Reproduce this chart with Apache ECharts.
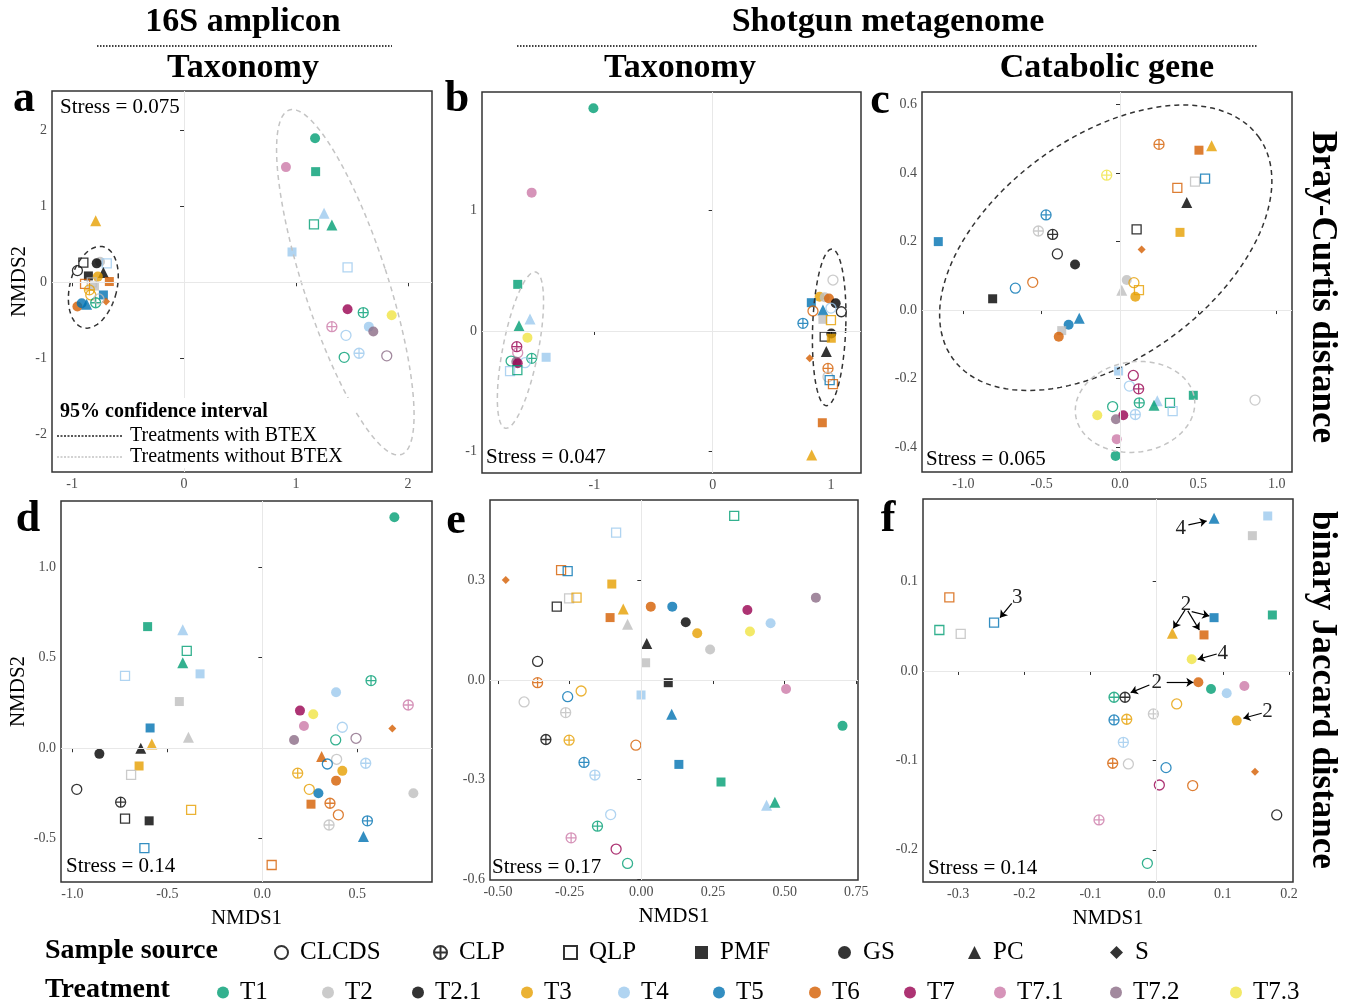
<!DOCTYPE html>
<html><head><meta charset="utf-8">
<script src="https://cdn.jsdelivr.net/npm/echarts@6/dist/echarts.min.js"></script>
<style>html,body{margin:0;padding:0;background:#fff}#c{width:1347px;height:1006px}</style>
</head><body><div id="c"></div>
<script>
// ---------- categories ----------
const SOURCES = ['CLCDS','CLP','QLP','PMF','GS','PC','S'];
const TREATMENTS = ['T1','T2','T2.1','T3','T4','T5','T6','T7','T7.1','T7.2','T7.3'];
const STRESS = ['Stress = 0.075','Stress = 0.047','Stress = 0.065','Stress = 0.14','Stress = 0.17','Stress = 0.14'];

// ---------- tick labels ----------
const ticksAx = [-1,0,1,2],            ticksAy = [-2,-1,0,1,2];
const ticksBx = [-1,0,1],              ticksBy = [-1,0,1];
const ticksCx = [-1,-0.5,0,0.5,1],     ticksCy = [-0.4,-0.2,0,0.2,0.4,0.6];
const ticksDx = [-1,-0.5,0,0.5],       ticksDy = [-0.5,0,0.5,1];
const ticksEx = [-0.5,-0.25,0,0.25,0.5,0.75], ticksEy = [-0.6,-0.3,0,0.3];
const ticksFx = [-0.3,-0.2,-0.1,0,0.1,0.2],   ticksFy = [-0.2,-0.1,0,0.1];

// ---------- points: [NMDS1, NMDS2, source, treatment] ----------
const panelA = [
 [1.17,1.90,'GS','T1'],[0.91,1.52,'GS','T7.1'],[1.175,1.46,'PMF','T1'],[1.25,0.91,'PC','T4'],
 [1.16,0.765,'QLP','T1'],[1.32,0.756,'PC','T1'],[0.964,0.40,'PMF','T4'],[1.46,0.198,'QLP','T4'],
 [1.46,-0.356,'GS','T7'],[1.60,-0.40,'CLP','T1'],[1.854,-0.435,'GS','T7.3'],[1.32,-0.585,'CLP','T7.1'],
 [1.65,-0.585,'GS','T4'],[1.69,-0.65,'GS','T7.2'],[1.446,-0.70,'CLCDS','T4'],[1.43,-0.99,'CLCDS','T1'],
 [1.5625,-0.936,'CLP','T4'],[1.81,-0.97,'CLCDS','T7.2'],
 [-0.789,0.813,'PC','T3'],[-0.952,0.154,'CLCDS','T2.1'],[-0.899,0.26,'QLP','T2.1'],[-0.75,0.27,'GS','T2'],
 [-0.78,0.25,'GS','T2.1'],[-0.69,0.25,'QLP','T4'],[-0.854,0.084,'PMF','T2.1'],[-0.72,0.13,'PC','T2.1'],
 [-0.77,0.075,'GS','T3'],[-0.667,0.01,'PMF','T6'],[-0.884,-0.02,'QLP','T6'],[-0.824,0.0,'QLP','T2'],
 [-0.80,-0.05,'PMF','T2'],[-0.845,-0.10,'CLP','T3'],[-0.833,-0.167,'CLCDS','T3'],[-0.72,-0.167,'PMF','T5'],
 [-0.952,-0.32,'GS','T6'],[-0.914,-0.277,'GS','T5'],[-0.87,-0.29,'PC','T5'],[-0.789,-0.27,'CLP','T1'],
 [-0.696,-0.255,'S','T6'],[-0.76,-0.22,'CLCDS','T2']
];
const panelB = [
 [-1.008,1.848,'GS','T1'],[-1.53,1.148,'GS','T7.1'],[-1.648,0.387,'PMF','T1'],[-1.544,0.10,'PC','T4'],
 [-1.637,0.044,'PC','T1'],[-1.566,-0.055,'GS','T7.3'],[-1.656,-0.13,'CLP','T7'],[-1.648,-0.18,'CLCDS','T7.1'],
 [-1.408,-0.218,'PMF','T4'],[-1.53,-0.227,'CLP','T1'],[-1.704,-0.249,'CLCDS','T1'],[-1.586,-0.263,'CLCDS','T4'],
 [-1.66,-0.255,'GS','T7.2'],[-1.648,-0.268,'GS','T7'],[-1.713,-0.332,'QLP','T4'],[-1.651,-0.324,'QLP','T1'],
 [1.017,0.423,'CLCDS','T2'],[0.904,0.285,'GS','T3'],[0.947,0.28,'GS','T2'],[0.983,0.27,'GS','T6'],
 [0.834,0.235,'PMF','T5'],[1.04,0.23,'GS','T2.1'],[0.848,0.166,'CLCDS','T6'],[0.932,0.174,'PC','T5'],
 [1.0,0.19,'CLCDS','T4'],[1.088,0.16,'CLCDS','T2.1'],[0.932,0.097,'PMF','T2'],[1.0,0.09,'QLP','T3'],
 [0.763,0.064,'CLP','T5'],[1.003,-0.02,'GS','T2.1'],[0.947,-0.047,'QLP','T2.1'],[1.003,-0.06,'PMF','T3'],
 [0.961,-0.17,'PC','T2.1'],[0.82,-0.227,'S','T6'],[0.975,-0.31,'CLP','T6'],[0.975,-0.38,'CLCDS','T2'],
 [0.989,-0.407,'QLP','T5'],[1.017,-0.44,'QLP','T6'],[0.927,-0.761,'PMF','T6'],[0.837,-1.029,'PC','T3']
];
const panelC = [
 [-1.16,0.20,'PMF','T5'],[0.249,0.484,'CLP','T6'],[0.504,0.467,'PMF','T6'],[0.585,0.48,'PC','T3'],
 [-0.085,0.394,'CLP','T7.3'],[0.366,0.357,'QLP','T6'],[0.479,0.375,'QLP','T2'],[0.543,0.384,'QLP','T5'],
 [0.426,0.314,'PC','T2.1'],[-0.472,0.278,'CLP','T5'],[-0.521,0.231,'CLP','T2'],[-0.43,0.221,'CLP','T2.1'],
 [0.106,0.236,'QLP','T2.1'],[0.383,0.227,'PMF','T3'],[0.138,0.177,'S','T6'],[-0.40,0.164,'CLCDS','T2.1'],
 [-0.287,0.133,'GS','T2.1'],[-0.557,0.081,'CLCDS','T6'],[-0.668,0.064,'CLCDS','T5'],[-0.813,0.033,'PMF','T2.1'],
 [0.043,0.088,'GS','T2'],[0.089,0.080,'CLCDS','T3'],[0.121,0.058,'QLP','T3'],[0.011,0.058,'PC','T2'],
 [0.098,0.039,'GS','T3'],[-0.26,-0.024,'PC','T5'],[-0.328,-0.043,'GS','T5'],[-0.372,-0.06,'PMF','T2'],
 [-0.391,-0.078,'GS','T6'],[-0.009,-0.178,'PMF','T4'],[0.085,-0.191,'CLCDS','T7'],[0.06,-0.222,'CLCDS','T4'],
 [0.119,-0.23,'CLP','T7'],[0.468,-0.249,'PMF','T1'],[0.862,-0.263,'CLCDS','T2'],[0.123,-0.271,'CLP','T1'],
 [0.238,-0.265,'PC','T4'],[0.217,-0.278,'PC','T1'],[0.319,-0.271,'QLP','T1'],[0.336,-0.295,'QLP','T4'],
 [-0.047,-0.282,'CLCDS','T1'],[0.098,-0.305,'CLP','T4'],[-0.145,-0.307,'GS','T7.3'],[0.021,-0.307,'GS','T7'],
 [-0.026,-0.319,'GS','T7.2'],[-0.021,-0.377,'GS','T7.1'],[-0.028,-0.426,'GS','T1']
];
const panelD = [
 [0.695,1.276,'GS','T1'],[-0.604,0.672,'PMF','T1'],[-0.419,0.654,'PC','T4'],[-0.398,0.538,'QLP','T1'],
 [-0.419,0.473,'PC','T1'],[-0.328,0.411,'PMF','T4'],[-0.723,0.40,'QLP','T4'],[-0.437,0.258,'PMF','T2'],
 [-0.591,0.112,'PMF','T5'],[-0.389,0.061,'PC','T2'],[-0.582,0.024,'PC','T3'],[-0.64,0.0,'PC','T2.1'],
 [-0.858,-0.031,'GS','T2.1'],[-0.649,-0.098,'PMF','T3'],[-0.691,-0.147,'QLP','T2'],[-0.977,-0.227,'CLCDS','T2.1'],
 [-0.746,-0.298,'CLP','T2.1'],[-0.723,-0.389,'QLP','T2.1'],[-0.596,-0.401,'PMF','T2.1'],[-0.375,-0.341,'QLP','T3'],
 [-0.621,-0.552,'QLP','T5'],[0.049,-0.645,'QLP','T6'],
 [0.572,0.374,'CLP','T1'],[0.388,0.309,'GS','T4'],[0.768,0.239,'CLP','T7.1'],[0.198,0.208,'GS','T7'],
 [0.268,0.188,'GS','T7.3'],[0.219,0.123,'GS','T7.1'],[0.421,0.116,'CLCDS','T4'],[0.684,0.109,'S','T6'],
 [0.167,0.046,'GS','T7.2'],[0.386,0.046,'CLCDS','T1'],[0.493,0.055,'CLCDS','T7.2'],[0.312,-0.046,'PC','T6'],
 [0.391,-0.061,'CLCDS','T2'],[0.342,-0.087,'CLCDS','T5'],[0.544,-0.083,'CLP','T4'],[0.421,-0.125,'GS','T3'],
 [0.186,-0.138,'CLP','T3'],[0.388,-0.179,'GS','T6'],[0.247,-0.227,'CLCDS','T3'],[0.295,-0.249,'GS','T5'],
 [0.795,-0.249,'GS','T2'],[0.256,-0.309,'PMF','T6'],[0.356,-0.304,'CLP','T6'],[0.40,-0.368,'CLCDS','T6'],
 [0.553,-0.401,'CLP','T5'],[0.351,-0.424,'CLP','T2'],[0.532,-0.488,'PC','T5']
];
const panelE = [
 [0.324,0.494,'QLP','T1'],[-0.088,0.444,'QLP','T4'],[-0.473,0.301,'S','T6'],[-0.28,0.331,'QLP','T6'],
 [-0.257,0.328,'QLP','T5'],[-0.103,0.289,'PMF','T3'],[-0.252,0.246,'QLP','T2'],[-0.226,0.248,'QLP','T3'],
 [-0.295,0.221,'QLP','T2.1'],[-0.063,0.214,'PC','T3'],[0.033,0.221,'GS','T6'],[0.108,0.221,'GS','T5'],
 [-0.109,0.188,'PMF','T6'],[-0.048,0.168,'PC','T2'],[0.155,0.174,'GS','T2.1'],[0.37,0.211,'GS','T7'],
 [0.609,0.248,'GS','T7.2'],[0.451,0.171,'GS','T4'],[0.379,0.146,'GS','T7.3'],[0.195,0.141,'GS','T3'],
 [0.24,0.092,'GS','T2'],[0.019,0.11,'PC','T2.1'],[0.015,0.052,'PMF','T2'],[-0.362,0.056,'CLCDS','T2.1'],
 [-0.362,-0.008,'CLP','T6'],[0.094,-0.008,'PMF','T2.1'],[0.505,-0.027,'GS','T7.1'],[-0.409,-0.066,'CLCDS','T2'],
 [-0.257,-0.05,'CLCDS','T5'],[-0.21,-0.033,'CLCDS','T3'],[-0.001,-0.045,'PMF','T4'],[-0.264,-0.098,'CLP','T2'],
 [0.106,-0.103,'PC','T5'],[0.702,-0.138,'GS','T1'],[-0.333,-0.179,'CLP','T2.1'],[-0.252,-0.181,'CLP','T3'],
 [-0.019,-0.196,'CLCDS','T6'],[-0.2,-0.248,'CLP','T5'],[0.131,-0.254,'PMF','T5'],[-0.162,-0.286,'CLP','T4'],
 [0.278,-0.307,'PMF','T1'],[0.437,-0.377,'PC','T4'],[0.466,-0.368,'PC','T1'],[-0.107,-0.405,'CLCDS','T4'],
 [-0.153,-0.44,'CLP','T1'],[-0.245,-0.475,'CLP','T7.1'],[-0.088,-0.509,'CLCDS','T7'],[-0.048,-0.552,'CLCDS','T1']
];
const panelF = [
 [0.0867,0.1707,'PC','T5'],[0.1678,0.1733,'PMF','T4'],[0.1446,0.1513,'PMF','T2'],[-0.3134,0.0824,'QLP','T6'],
 [-0.2458,0.054,'QLP','T5'],[-0.3285,0.0458,'QLP','T1'],[-0.2962,0.0414,'QLP','T2'],[0.0867,0.0596,'PMF','T5'],
 [0.1748,0.0626,'PMF','T1'],[0.0237,0.0421,'PC','T3'],[0.0715,0.0403,'PMF','T6'],[0.0529,0.013,'GS','T7.3'],
 [0.063,-0.0127,'GS','T6'],[0.0821,-0.0201,'GS','T1'],[0.1058,-0.025,'GS','T4'],[0.1325,-0.0168,'GS','T7.1'],
 [-0.0645,-0.0294,'CLP','T1'],[-0.0479,-0.0294,'CLP','T2.1'],[0.0302,-0.0369,'CLCDS','T3'],[-0.0645,-0.0548,'CLP','T5'],
 [-0.0453,-0.054,'CLP','T3'],[-0.005,-0.0481,'CLP','T2'],[0.1209,-0.0555,'GS','T3'],[-0.0504,-0.0798,'CLP','T4'],
 [-0.0665,-0.1032,'CLP','T6'],[-0.0428,-0.104,'CLCDS','T2'],[0.0141,-0.1081,'CLCDS','T5'],[0.1486,-0.1126,'S','T6'],
 [0.004,-0.1275,'CLCDS','T7'],[0.0544,-0.1282,'CLCDS','T6'],[0.1814,-0.161,'CLCDS','T2.1'],[-0.0872,-0.1666,'CLP','T7.1'],
 [-0.0141,-0.2151,'CLCDS','T1']
];

// ---------- 95% confidence ellipses: [cx, cy, semiX, semiY, rotationDeg, group(0 = with BTEX, 1 = without)] ----------
const ellipseA = [[-0.81,-0.066,0.21,0.55,-14,0],[1.44,0.0,0.375,2.39,18,1]];
const ellipseB = [[0.985,0.03,0.14,0.65,-2,0],[-1.625,-0.158,0.15,0.66,-11,1]];
const ellipseC = [[-0.091,0.182,1.206,0.324,36,0],[0.096,-0.283,0.383,0.132,8,1]];

// ---------- panel f annotations ----------
const annotTextF = [['4',0.0363,0.1595],['3',-0.2106,0.0824],['2',0.0443,0.0745],['4',0.0997,0.0198],['2',0.0,-0.013],['2',0.1673,-0.0455]];
const annotArrowF = [
 [0.0479,0.1633,0.0756,0.1677],[-0.2191,0.0757,-0.2368,0.0596],
 [0.0529,0.0663,0.0796,0.0615],[0.0428,0.0682,0.0252,0.0477],[0.0470,0.0672,0.0645,0.0458],
 [0.0907,0.019,0.062,0.013],[-0.0111,-0.0157,-0.0393,-0.0242],[0.0151,-0.0127,0.0554,-0.0127],
 [0.1587,-0.0473,0.131,-0.0529]
];

// ---------- styles ----------
const COL = {'T1':'#009E73','T2':'#BEBEBE','T2.1':'#000000','T3':'#E69F00','T4':'#9CC9EE','T5':'#0072B2',
  'T6':'#D55E00','T7':'#990050','T7.1':'#CC79A7','T7.2':'#8B6B86','T7.3':'#F0E442'};
const CLP_PATH = 'path://M0,10 A10,10 0 1,1 20,10 A10,10 0 1,1 0,10 Z M10,0 L10,20 M0,10 L20,10';
const SYM = {
  CLCDS:{symbol:'circle',open:true,size:10},
  CLP:{symbol:CLP_PATH,open:true,size:10},
  QLP:{symbol:'rect',open:true,size:9},
  PMF:{symbol:'rect',open:false,size:9},
  GS:{symbol:'circle',open:false,size:10},
  PC:{symbol:'triangle',open:false,size:11},
  S:{symbol:'diamond',open:false,size:8}
};
const SERIF = '"Liberation Serif","DejaVu Serif",serif';

function items(pts){
  return pts.map(([x,y,s,t])=>{
    const m=SYM[s], c=COL[t];
    return {value:[x,y], symbol:m.symbol, symbolSize:m.size,
      itemStyle: m.open?{color:'rgba(255,255,255,0)',borderColor:c,borderWidth:1.3}:{color:c,borderWidth:0}};
  });
}

const GRIDS = [
  {left:52,top:91,width:380,height:381},
  {left:482,top:92,width:379,height:381},
  {left:922,top:92,width:370,height:380},
  {left:61,top:501,width:371,height:381},
  {left:490,top:500,width:368,height:380},
  {left:923,top:499,width:370,height:383}
];
function mkAxis(kind, gi, min, max, ticks, dec, name, gap){
  return {type:'value', gridIndex:gi, min:min, max:max, splitLine:{show:false},
    axisLine:{show:false},
    axisTick:{show:true, length:4, inside:false, lineStyle:{color:'#333'}, customValues:ticks},
    axisLabel:{customValues:ticks, formatter:(v)=>dec==null?String(v):Number(v).toFixed(dec),
      fontFamily:SERIF, fontSize:14, color:'#4d4d4d', margin:5},
    name:name||'', nameLocation:'middle', nameGap:gap||25,
    nameTextStyle:{fontFamily:SERIF, fontSize:21, color:'#000'}};
}
const xAxes = [
  mkAxis('x',0,-1.179,2.214,ticksAx,null),
  mkAxis('x',1,-1.95,1.254,ticksBx,null),
  mkAxis('x',2,-1.264,1.098,ticksCx,1),
  mkAxis('x',3,-1.06,0.893,ticksDx,1,'NMDS1',26),
  mkAxis('x',4,-0.528,0.756,ticksEx,2,'NMDS1',26),
  mkAxis('x',5,-0.3532,0.206,ticksFx,1,'NMDS1',26)
];
const yAxes = [
  mkAxis('y',0,-2.503,2.524,ticksAy,null,'NMDS2',22),
  mkAxis('y',1,-1.178,1.983,ticksBy,null),
  mkAxis('y',2,-0.473,0.637,ticksCy,1),
  mkAxis('y',3,-0.739,1.366,ticksDy,1,'NMDS2',32),
  mkAxis('y',4,-0.602,0.542,ticksEy,1),
  mkAxis('y',5,-0.236,0.1923,ticksFy,1)
];

const PANELS=[panelA,panelB,panelC,panelD,panelE,panelF];
const ELLIPSES=[ellipseA,ellipseB,ellipseC,null,null,null];
const series=[];
PANELS.forEach((pts,i)=>{
  series.push({type:'line', xAxisIndex:i, yAxisIndex:i, data:[], z:1, silent:true,
    markLine:{silent:true, symbol:'none', animation:false, label:{show:false},
      lineStyle:{color:'#e8e8e8', width:1, type:'solid'}, data:[{xAxis:0},{yAxis:0}]}});
  if(ELLIPSES[i]){
    series.push({type:'custom', xAxisIndex:i, yAxisIndex:i, z:4, silent:true, data:ELLIPSES[i],
      encode:{x:0,y:1},
      renderItem:(params, api)=>{
        const c=api.coord([api.value(0),api.value(1)]);
        const rx=api.size([api.value(2),0])[0], ry=api.size([0,api.value(3)])[1];
        const ph=api.value(4)*Math.PI/180, grp=api.value(5);
        const p=[];
        for(let k=0;k<=120;k++){const t=k/120*2*Math.PI;const u=rx*Math.cos(t),v=ry*Math.sin(t);
          p.push([c[0]+u*Math.cos(ph)+v*Math.sin(ph), c[1]-u*Math.sin(ph)+v*Math.cos(ph)]);}
        return {type:'polyline', shape:{points:p}, style:{fill:null, stroke:grp?'#c4c4c4':'#333', lineWidth:1.5, lineDash:[5,4]}};
      }});
  }
  series.push({type:'scatter', name:'pts'+i, xAxisIndex:i, yAxisIndex:i, z:3, data:items(pts)});
});
// annotations panel f
series.push({type:'line', xAxisIndex:5, yAxisIndex:5, data:[], z:5, silent:true,
  markLine:{silent:true, animation:false, symbol:['none','arrow'], symbolSize:7, label:{show:false},
    lineStyle:{color:'#000', width:1.2, type:'solid'},
    data:annotArrowF.map(a=>[{coord:[a[0],a[1]]},{coord:[a[2],a[3]]}])},
  markPoint:{silent:true, animation:false, symbol:'circle', symbolSize:1, itemStyle:{color:'rgba(0,0,0,0)'},
    label:{show:true, position:'inside', formatter:(p)=>p.name, fontFamily:SERIF, fontSize:21, color:'#222'},
    data:annotTextF.map(a=>({name:a[0], coord:[a[1],a[2]]}))}
});
// legend series (no data)
SOURCES.forEach(s=>{
  const m=SYM[s];
  series.push({type:'scatter', name:s, xAxisIndex:0, yAxisIndex:0, data:[], symbol:m.symbol,
    itemStyle: m.open?{color:'rgba(255,255,255,0)',borderColor:'#000',borderWidth:1.3}:{color:'#000',borderWidth:0}});
});
TREATMENTS.forEach(t=>{
  series.push({type:'scatter', name:t, xAxisIndex:0, yAxisIndex:0, data:[], symbol:'circle', itemStyle:{color:COL[t]}});
});

const srcLegendLeft=[269,428,558,690,833,963,1105];
const trtLegendLeft=[212,317,407,516,613,708,804,899,989,1105,1225];
const legends=[];
SOURCES.forEach((s,i)=>legends.push({data:[s], left:srcLegendLeft[i], top:935, itemWidth:13, itemHeight:13,
  selectedMode:false, textStyle:{fontFamily:SERIF, fontSize:25, color:'#000', padding:[0,0,0,7]}}));
TREATMENTS.forEach((t,i)=>legends.push({data:[t], left:trtLegendLeft[i], top:975, itemWidth:12, itemHeight:12,
  selectedMode:false, textStyle:{fontFamily:SERIF, fontSize:25, color:'#000', padding:[0,0,0,6]}}));

function txt(x,y,text,font,opt){
  return Object.assign({type:'text', x:x, y:y, silent:true, z:20,
    style:{text:text, font:font, fill:'#000', align:'center', verticalAlign:'middle', textAlign:'center', textVerticalAlign:'middle'}}, opt||{});
}
function ltxt(x,y,text,font){ const e=txt(x,y,text,font); e.style.align='left'; e.style.textAlign='left'; return e; }
const HB='bold 34px '+SERIF, LET='bold 44px '+SERIF, ST='21px '+SERIF;
const graphics=[
  txt(243,22,'16S amplicon',HB), txt(888,22,'Shotgun metagenome',HB),
  txt(243,68,'Taxonomy',HB), txt(680,68,'Taxonomy',HB), txt(1107,68,'Catabolic gene',HB),
  {type:'line', silent:true, shape:{x1:97,y1:46,x2:392,y2:46}, style:{stroke:'#000',lineWidth:1.6,lineDash:[1.5,1.5]}},
  {type:'line', silent:true, shape:{x1:517,y1:46,x2:1257,y2:46}, style:{stroke:'#000',lineWidth:1.6,lineDash:[1.5,1.5]}},
  txt(1322,287,'Bray-Curtis distance','bold 35px '+SERIF,{rotation:-Math.PI/2}),
  txt(1322,690,'binary Jaccard distance','bold 35px '+SERIF,{rotation:-Math.PI/2}),
  txt(24,100,'a',LET), txt(457,100,'b',LET), txt(880,102,'c',LET),
  txt(28,520,'d',LET), txt(456,522,'e',LET), txt(888,520,'f',LET),
  ltxt(60,107,STRESS[0],ST), ltxt(486,457,STRESS[1],ST), ltxt(926,459,STRESS[2],ST),
  ltxt(66,866,STRESS[3],ST), ltxt(492,867,STRESS[4],ST), ltxt(928,868,STRESS[5],ST),
  {type:'rect', silent:true, z:15, shape:{x:55,y:398,width:300,height:70}, style:{fill:'#fff'}},
  ltxt(60,412,'95% confidence interval','bold 20px '+SERIF),
  {type:'line', silent:true, z:20, shape:{x1:57,y1:436,x2:122,y2:436}, style:{stroke:'#222',lineWidth:1.6,lineDash:[2,1.5]}},
  {type:'line', silent:true, z:20, shape:{x1:57,y1:457,x2:122,y2:457}, style:{stroke:'#c4c4c4',lineWidth:1.6,lineDash:[2,1.5]}},
  ltxt(130,436,'Treatments with BTEX','20px '+SERIF), ltxt(130,457,'Treatments without BTEX','20px '+SERIF),
  ltxt(45,951,'Sample source','bold 28px '+SERIF), ltxt(45,990,'Treatment','bold 28px '+SERIF)
];

const chart=echarts.init(document.getElementById('c'),null,{renderer:'canvas'});
chart.setOption({
  animation:false, backgroundColor:'#fff',
  grid:GRIDS.map(g=>Object.assign({show:true, borderColor:'#333', borderWidth:1.5, backgroundColor:'#fff', containLabel:false},g)),
  xAxis:xAxes, yAxis:yAxes, series:series, legend:legends, graphic:graphics
});
</script></body></html>
